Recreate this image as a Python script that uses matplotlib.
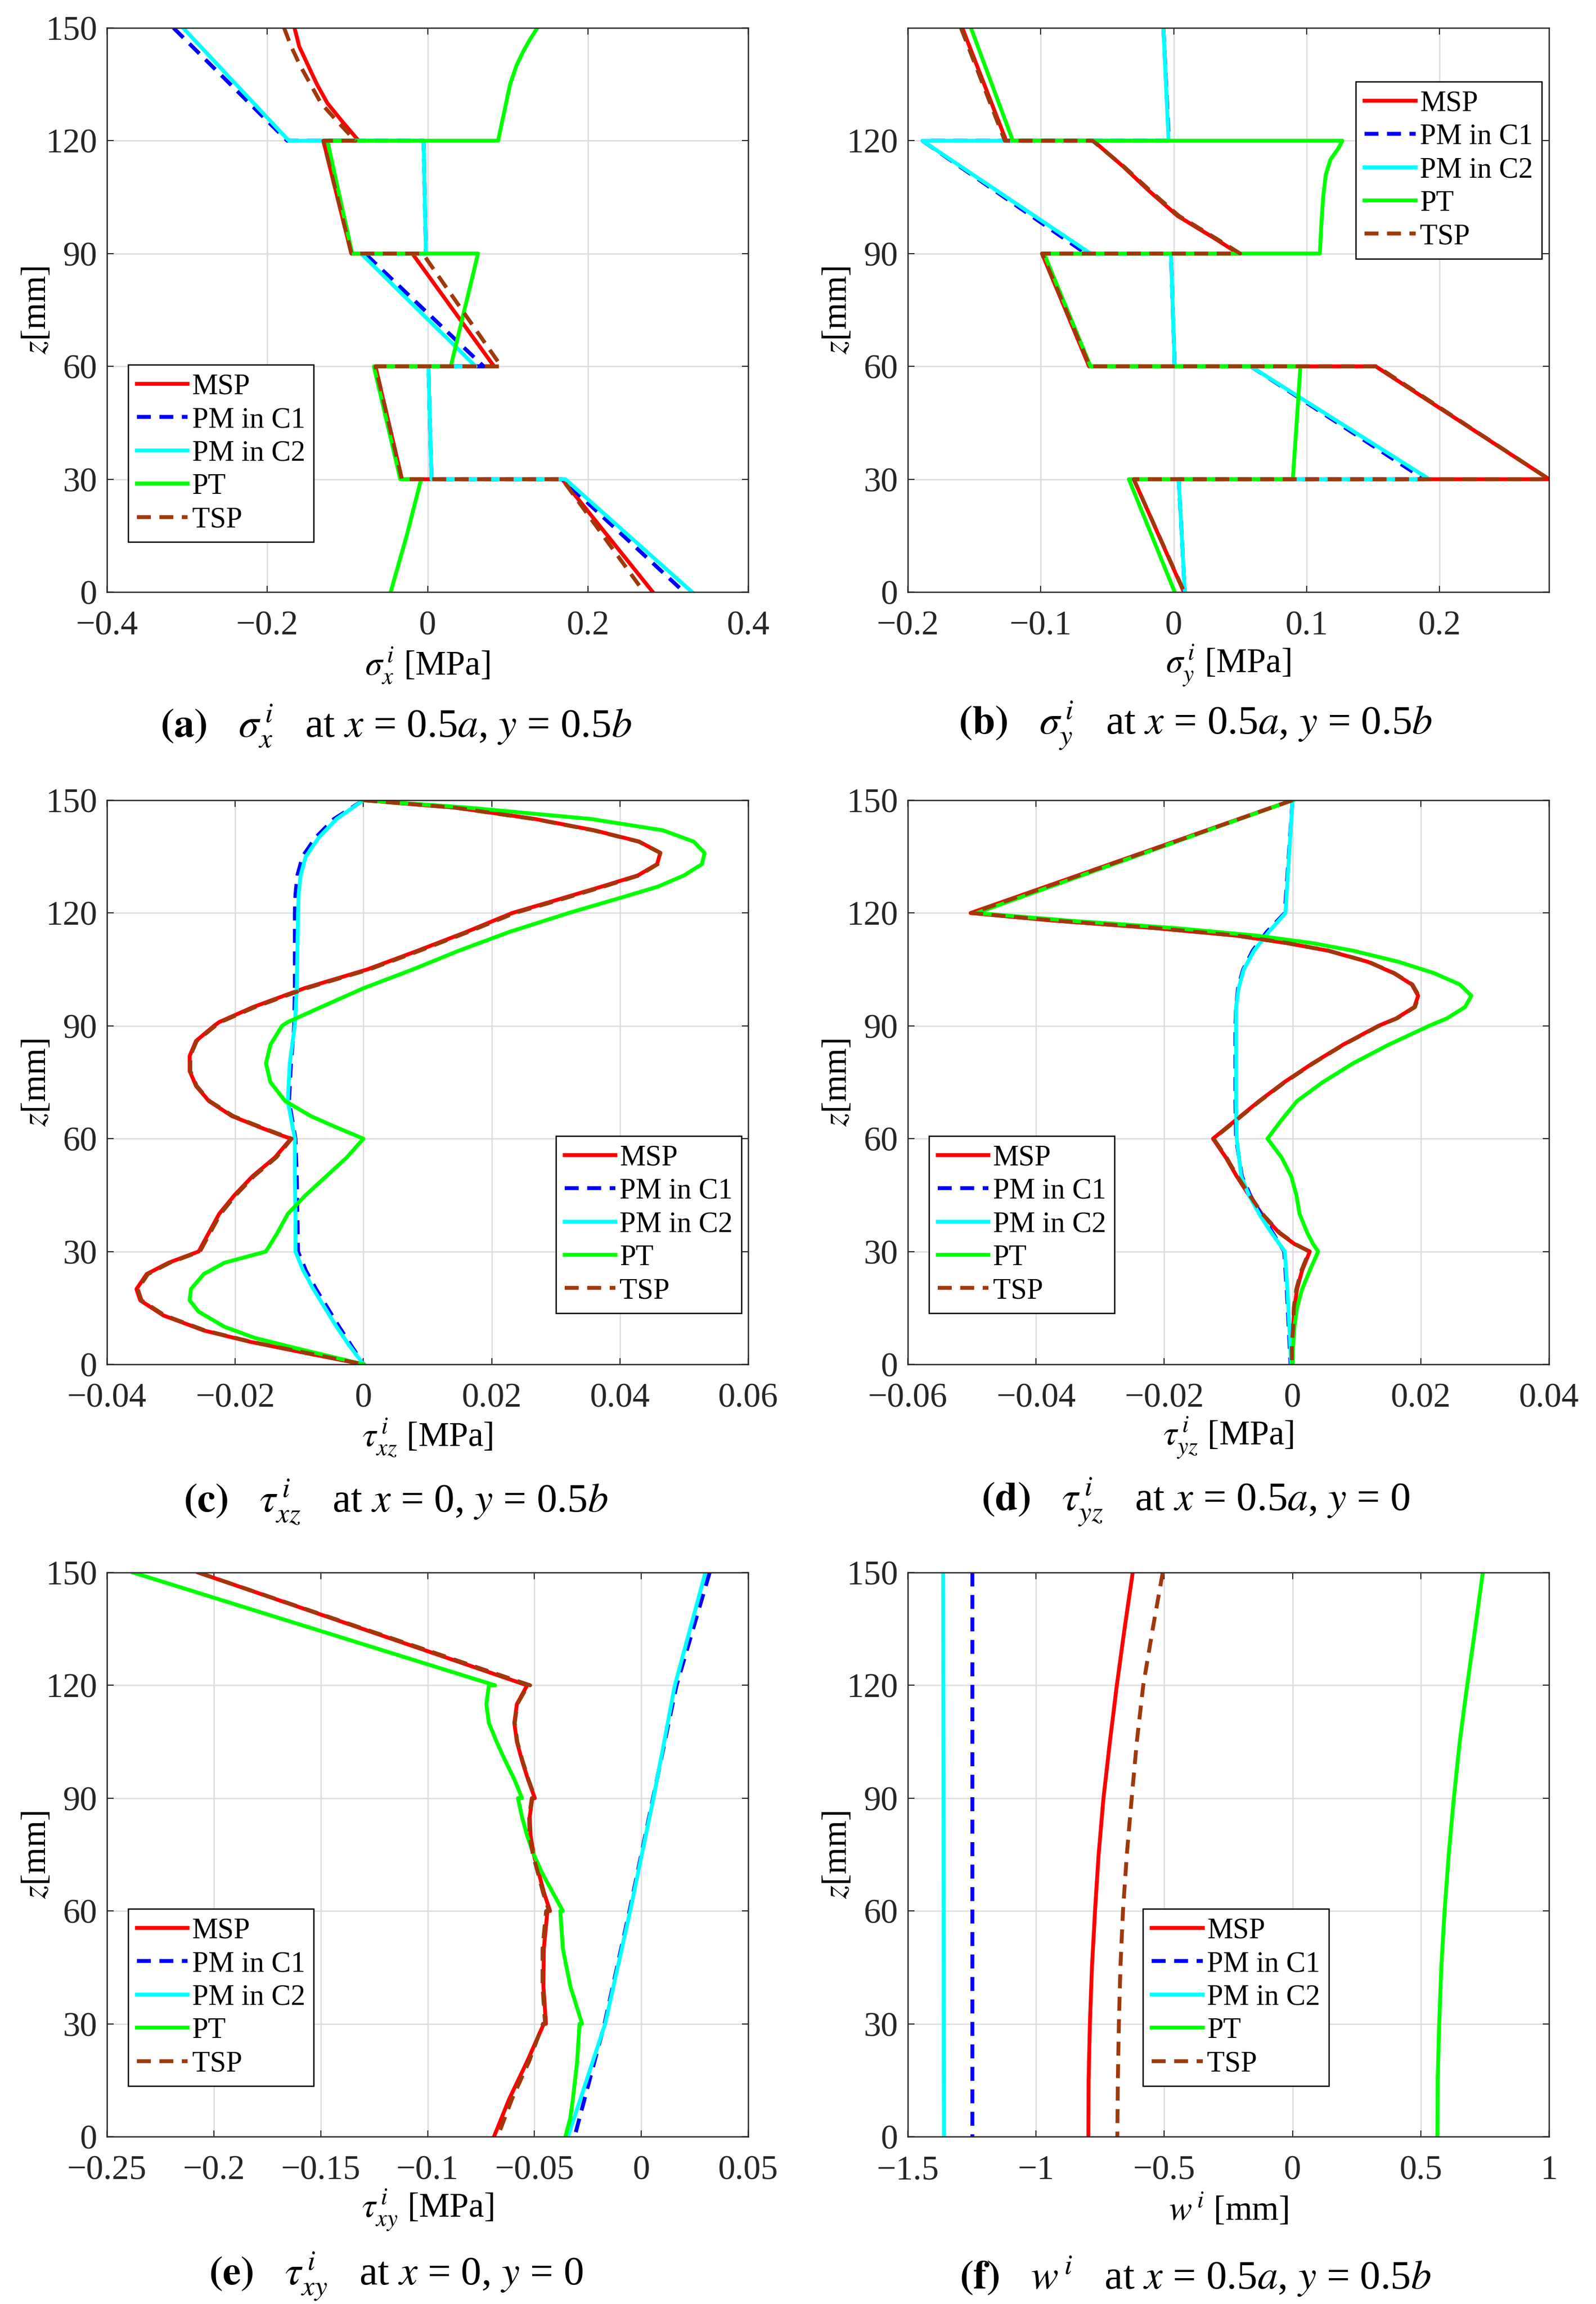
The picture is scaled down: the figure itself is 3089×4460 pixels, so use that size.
import matplotlib
matplotlib.use('Agg')
import matplotlib.pyplot as plt
from matplotlib.ticker import FuncFormatter

plt.rcParams['font.family'] = ['Liberation Serif', 'DejaVu Serif']
plt.rcParams['mathtext.fontset'] = 'stix'

names = ['MSP', 'PM in C1', 'PM in C2', 'PT', 'TSP']

# (a) sigma_x at x = 0.5a, y = 0.5b
a_z_msp = [150, 145, 140, 135, 130, 125, 120, 120, 90, 90, 60, 60, 30, 30, 0]
a_msp = [-0.166, -0.160, -0.149, -0.138, -0.125, -0.106, -0.086, -0.130, -0.095,
         -0.019, 0.083, -0.065, -0.032, 0.168, 0.281]
a_tsp = [-0.179, -0.170, -0.159, -0.146, -0.133, -0.112, -0.090, -0.130, -0.095,
         -0.006, 0.092, -0.065, -0.032, 0.168, 0.270]
a_z_pm = [150, 120, 120, 90, 90, 60, 60, 30, 30, 0]
a_pm1 = [-0.317, -0.175, -0.005, -0.002, -0.078, 0.070, 0.001, 0.005, 0.168, 0.320]
a_pm2 = [-0.305, -0.173, -0.005, -0.002, -0.083, 0.060, 0.001, 0.005, 0.172, 0.330]
a_z_pt = [150, 147, 144, 140, 135, 130, 125, 120, 120, 90, 90, 60, 60, 30, 30, 15, 0]
a_pt = [0.137, 0.128, 0.120, 0.111, 0.103, 0.098, 0.093, 0.088, -0.125, -0.094,
        0.063, 0.029, -0.067, -0.034, -0.008, -0.026, -0.046]

# (b) sigma_y at x = 0.5a, y = 0.5b
b_z_msp = [150, 120, 120, 113, 106.5, 100, 94, 90, 90, 60, 60, 30, 30, 0]
b_msp = [-0.159, -0.126, -0.0605, -0.0375, -0.018, 0.003, 0.031, 0.0487,
         -0.099, -0.0636, 0.152, 0.2824, -0.030, 0.0077]
b_tsp = [-0.160, -0.127, -0.061, -0.037, -0.017, 0.004, 0.032, 0.050,
         -0.099, -0.063, 0.153, 0.2824, -0.030, 0.008]
b_z_pm = [150, 120, 120, 90, 90, 60, 60, 30, 30, 0]
b_pm1 = [-0.0077, -0.0035, -0.189, -0.066, -0.002, 0.0008, 0.058, 0.1885, 0.0038, 0.0084]
b_pm2 = [-0.0077, -0.0038, -0.189, -0.0625, -0.002, 0.0008, 0.058, 0.1923, 0.0038, 0.0084]
b_z_pt = [150, 120, 120, 118, 115, 111, 105, 97, 90, 90, 60, 60, 30, 30, 0]
b_pt = [-0.1525, -0.121, 0.127, 0.124, 0.118, 0.1145, 0.1125, 0.111, 0.110,
        -0.0975, -0.0625, 0.0954, 0.0897, -0.0337, 0.0008]

# (c) tau_xz at x = 0, y = 0.5b
c_z_msp = [150, 148, 145, 142, 139, 136, 133, 130, 127, 123, 120, 115, 110, 105, 100,
           95, 91, 90, 86, 82, 78, 74, 70, 66, 63, 61, 60, 55, 50, 45, 40, 35, 30,
           27, 24, 20, 17, 13, 9, 6, 3, 0]
c_msp = [0.0, 0.0145, 0.0268, 0.0360, 0.0430, 0.0463, 0.0458, 0.0428, 0.0371, 0.0292,
         0.0232, 0.0161, 0.0085, 0.0006, -0.0092, -0.0172, -0.0225, -0.0233, -0.0261,
         -0.0271, -0.0271, -0.0261, -0.0241, -0.0205, -0.0161, -0.0130, -0.0113,
         -0.0138, -0.0173, -0.0201, -0.0225, -0.0241, -0.0257, -0.0304, -0.0338,
         -0.0354, -0.0348, -0.0312, -0.0249, -0.0177, -0.0090, 0.0]
c_tsp = [0.0, 0.0143, 0.0266, 0.0358, 0.0429, 0.0463, 0.0459, 0.0430, 0.0374, 0.0296,
         0.0236, 0.0164, 0.0088, 0.0009, -0.0089, -0.0169, -0.0223, -0.0231, -0.0260,
         -0.0270, -0.0270, -0.0260, -0.0240, -0.0203, -0.0159, -0.0128, -0.0112,
         -0.0136, -0.0171, -0.0199, -0.0223, -0.0239, -0.0255, -0.0302, -0.0336,
         -0.0352, -0.0346, -0.0310, -0.0247, -0.0175, -0.0088, 0.0]
c_z_pm = [150, 145, 140, 135, 130, 125, 120, 110, 100, 90, 80, 70, 60, 50, 40, 30,
          25, 20, 15, 10, 5, 0]
c_pm1 = [0.0, -0.0046, -0.0075, -0.0095, -0.0103, -0.0106, -0.0107, -0.0107, -0.0107,
         -0.0108, -0.0113, -0.0116, -0.0106, -0.0104, -0.0103, -0.0102, -0.0090,
         -0.0074, -0.0056, -0.0038, -0.0019, 0.0]
c_pm2 = [0.0, -0.0042, -0.0070, -0.0090, -0.0098, -0.0101, -0.0102, -0.0103, -0.0104,
         -0.0107, -0.0115, -0.0118, -0.0107, -0.0107, -0.0106, -0.0106, -0.0094,
         -0.0078, -0.0060, -0.0042, -0.0022, 0.0]
c_z_pt = [150, 148, 145, 142, 139, 136, 133, 130, 127, 124, 120, 115, 110, 105, 100,
          95, 91, 90, 85, 80, 75, 70, 66, 63, 60, 55, 50, 45, 40, 35, 30, 27, 24, 20,
          17, 14, 10, 7, 4, 0]
c_pt = [0.0, 0.0165, 0.0355, 0.0467, 0.0515, 0.0532, 0.0528, 0.0500, 0.0459, 0.0400,
        0.0320, 0.0228, 0.0149, 0.0077, 0.0, -0.0066, -0.0118, -0.0127, -0.0145,
        -0.0152, -0.0145, -0.0122, -0.0082, -0.0042, 0.0, -0.0026, -0.0058, -0.0090,
        -0.0118, -0.0134, -0.0152, -0.0217, -0.0249, -0.0269, -0.0271, -0.0257,
        -0.0217, -0.0169, -0.0098, 0.0]

# (d) tau_yz at x = 0.5a, y = 0
d_z = [150, 120, 118, 116, 114, 112, 110, 107, 104, 101, 98, 95, 92, 90, 85, 80, 75,
       70, 65, 60, 55, 50, 45, 40, 35, 32, 30, 25, 20, 15, 10, 5, 0]
d_msp = [0.0, -0.0502, -0.0374, -0.0215, -0.0088, -0.0009, 0.0055, 0.0118, 0.0158,
         0.0186, 0.0196, 0.0190, 0.0162, 0.0134, 0.0079, 0.0031, -0.0013, -0.0052,
         -0.0088, -0.0124, -0.0104, -0.0087, -0.0068, -0.0048, -0.0021, 0.0003, 0.0027,
         0.0015, 0.0007, 0.0003, 0.0001, -0.0001, -0.0001]
d_tsp = [0.0, -0.0500, -0.0373, -0.0214, -0.0087, -0.0008, 0.0056, 0.0119, 0.0159,
         0.0187, 0.0197, 0.0191, 0.0163, 0.0135, 0.0080, 0.0032, -0.0012, -0.0051,
         -0.0087, -0.0123, -0.0103, -0.0086, -0.0067, -0.0047, -0.0020, 0.0004, 0.0026,
         0.0014, 0.0006, 0.0002, 0.0001, -0.0001, -0.0001]
d_pt = [0.0, -0.0493, -0.0350, -0.0183, -0.0056, 0.0031, 0.0094, 0.0166, 0.0221,
        0.0261, 0.0279, 0.0269, 0.0241, 0.0213, 0.0150, 0.0094, 0.0047, 0.0007,
        -0.0017, -0.0039, -0.0017, -0.0002, 0.0006, 0.0011, 0.0023, 0.0032, 0.0040,
        0.0027, 0.0015, 0.0007, 0.0003, 0.0001, 0.0]
d_z_pm = [150, 120, 115, 110, 105, 100, 95, 90, 80, 70, 60, 50, 45, 40, 35, 30, 20, 10, 0]
d_pm1 = [0.0, -0.0012, -0.0040, -0.0062, -0.0077, -0.0085, -0.0088, -0.0089, -0.0089,
         -0.0089, -0.0088, -0.0079, -0.0066, -0.0050, -0.0031, -0.0013, -0.0009,
         -0.0006, -0.0003]
d_pm2 = [0.0, -0.0011, -0.0037, -0.0060, -0.0076, -0.0084, -0.0088, -0.0088, -0.0088,
         -0.0088, -0.0087, -0.0080, -0.0068, -0.0052, -0.0033, -0.0012, -0.0008,
         -0.0005, -0.0002]

# (e) tau_xy at x = 0, y = 0
e_z_msp = [150, 120, 120, 115, 110, 105, 100, 95, 90, 90, 85, 80, 75, 70, 65, 60,
           60, 50, 40, 30, 30, 20, 10, 0]
e_msp = [-0.2073, -0.0534, -0.0534, -0.0582, -0.0594, -0.0582, -0.0558, -0.0530,
         -0.0498, -0.0510, -0.0522, -0.0518, -0.0503, -0.0479, -0.0456, -0.0427,
         -0.0439, -0.0456, -0.0458, -0.0446, -0.0456, -0.0534, -0.0618, -0.0689]
e_tsp = [-0.2073, -0.0520, -0.0530, -0.0580, -0.0592, -0.0580, -0.0556, -0.0528,
         -0.0496, -0.0512, -0.0525, -0.0522, -0.0507, -0.0483, -0.0460, -0.0432,
         -0.0445, -0.0462, -0.0462, -0.0450, -0.0460, -0.0525, -0.0605, -0.0672]
e_z_pt = [150, 120, 120, 115, 110, 105, 100, 95, 90, 90, 85, 80, 75, 70, 65, 60,
          60, 50, 40, 30, 30, 20, 10, 5, 0]
e_pt = [-0.2378, -0.0684, -0.0713, -0.0725, -0.0713, -0.0677, -0.0637, -0.0594,
        -0.0558, -0.0577, -0.0558, -0.0534, -0.0503, -0.0463, -0.0415, -0.0367,
        -0.0379, -0.0367, -0.0332, -0.0277, -0.0289, -0.0300, -0.0320, -0.0332, -0.0355]
e_z_pm = [150, 120, 90, 60, 30, 0]
e_pm1 = [0.0320, 0.0165, 0.0055, -0.0055, -0.0172, -0.0312]
e_pm2 = [0.0300, 0.0157, 0.0057, -0.0052, -0.0169, -0.0343]

# (f) w at x = 0.5a, y = 0.5b
f_z = [150, 135, 120, 105, 90, 75, 60, 45, 30, 15, 0]
f_msp = [-0.623, -0.655, -0.685, -0.712, -0.737, -0.756, -0.770, -0.782, -0.790, -0.795, -0.796]
f_tsp = [-0.506, -0.545, -0.582, -0.607, -0.627, -0.646, -0.661, -0.671, -0.677, -0.681, -0.683]
f_pt = [0.742, 0.712, 0.681, 0.652, 0.629, 0.609, 0.593, 0.580, 0.572, 0.566, 0.565]
f_z_pm = [150, 0]
f_pm1 = [-1.248, -1.248]
f_pm2 = [-1.362, -1.359]

colors = {'MSP': '#ff0000', 'PM in C1': '#0000ff', 'PM in C2': '#00ffff',
          'PT': '#00ff00', 'TSP': '#a0380a'}
dashed = ['PM in C1', 'TSP']

fmt = FuncFormatter(lambda v, p: ('%g' % round(v, 6)).replace('-', '\u2212'))

fig = plt.figure(figsize=(3089 / 300, 4460 / 300), dpi=300)

W = 1241 / 3089
H = 1092 / 4460
cols = [207 / 3089, 1757 / 3089]
rows = [1 - 1146 / 4460, 1 - 2641 / 4460, 1 - 4136 / 4460]
cap_x = [0.248, 0.749]
cap_y = [0.685, 0.348, 0.012]


def panel(r, c, curves, xlim, xticks, yticks, xlabel, caption, leg_xy):
    ax = fig.add_axes([cols[c], rows[r], W, H])
    for name, (z, v) in zip(names, curves):
        line, = ax.plot(v, z, color=colors[name], lw=1.8, label=name)
        if name in dashed:
            line.set_dashes((3.6, 2.2))
    ax.set_xlim(xlim)
    ax.set_ylim(0, 150)
    ax.set_xticks(xticks)
    ax.set_yticks(yticks)
    ax.xaxis.set_major_formatter(fmt)
    ax.yaxis.set_major_formatter(fmt)
    ax.grid(True, color='#dcdcdc', lw=0.6)
    ax.set_axisbelow(True)
    ax.tick_params(direction='in', top=True, right=True, length=3, width=0.5,
                   labelsize=16, colors='#262626')
    ax.tick_params(axis='x', pad=8.5)
    ax.tick_params(axis='y', pad=4.5)
    for s in ax.spines.values():
        s.set_linewidth(0.6)
        s.set_color('#262626')
    ax.set_xlabel(xlabel, fontsize=16)
    ax.xaxis.set_label_coords(0.5, -0.13)
    ax.xaxis.label.set_va('center')
    ax.set_ylabel(r'$z$[mm]', fontsize=16)
    ax.yaxis.set_label_coords(-0.109, 0.5)
    ax.yaxis.label.set_va('center')
    leg = ax.legend(loc='upper left', bbox_to_anchor=leg_xy, borderaxespad=0,
                    fancybox=False, edgecolor='black', framealpha=1, fontsize=13.5,
                    handlelength=1.75, handletextpad=0.15, labelspacing=0.22,
                    borderpad=0.3)
    leg.get_frame().set_linewidth(0.6)
    fig.text(cap_x[c], cap_y[r], caption, ha='center', va='center', fontsize=19)
    return ax


yt = [0, 30, 60, 90, 120, 150]

panel(0, 0, [(a_z_msp, a_msp), (a_z_pm, a_pm1), (a_z_pm, a_pm2), (a_z_pt, a_pt), (a_z_msp, a_tsp)],
      (-0.4, 0.4), [-0.4, -0.2, 0, 0.2, 0.4], yt,
      r'$\sigma_x^{\,i}$ [MPa]',
      r'$\mathbf{(a)}$   $\sigma_x^{\,i}$   at $x$ = 0.5$a$, $y$ = 0.5$b$', (0.033, 0.403))

panel(0, 1, [(b_z_msp, b_msp), (b_z_pm, b_pm1), (b_z_pm, b_pm2), (b_z_pt, b_pt), (b_z_msp, b_tsp)],
      (-0.2, 0.2824), [-0.2, -0.1, 0, 0.1, 0.2], [0, 30, 60, 90, 120],
      r'$\sigma_y^{\,i}$ [MPa]',
      r'$\mathbf{(b)}$   $\sigma_y^{\,i}$   at $x$ = 0.5$a$, $y$ = 0.5$b$', (0.699, 0.905))

panel(1, 0, [(c_z_msp, c_msp), (c_z_pm, c_pm1), (c_z_pm, c_pm2), (c_z_pt, c_pt), (c_z_msp, c_tsp)],
      (-0.04, 0.06), [-0.04, -0.02, 0, 0.02, 0.04, 0.06], yt,
      r'$\tau_{xz}^{\,i}$ [MPa]',
      r'$\mathbf{(c)}$   $\tau_{xz}^{\,i}$   at $x$ = 0, $y$ = 0.5$b$', (0.70, 0.405))

panel(1, 1, [(d_z, d_msp), (d_z_pm, d_pm1), (d_z_pm, d_pm2), (d_z, d_pt), (d_z, d_tsp)],
      (-0.06, 0.04), [-0.06, -0.04, -0.02, 0, 0.02, 0.04], yt,
      r'$\tau_{yz}^{\,i}$ [MPa]',
      r'$\mathbf{(d)}$   $\tau_{yz}^{\,i}$   at $x$ = 0.5$a$, $y$ = 0', (0.033, 0.405))

panel(2, 0, [(e_z_msp, e_msp), (e_z_pm, e_pm1), (e_z_pm, e_pm2), (e_z_pt, e_pt), (e_z_msp, e_tsp)],
      (-0.25, 0.05), [-0.25, -0.2, -0.15, -0.1, -0.05, 0, 0.05], yt,
      r'$\tau_{xy}^{\,i}$ [MPa]',
      r'$\mathbf{(e)}$   $\tau_{xy}^{\,i}$   at $x$ = 0, $y$ = 0', (0.033, 0.404))

panel(2, 1, [(f_z, f_msp), (f_z_pm, f_pm1), (f_z_pm, f_pm2), (f_z, f_pt), (f_z, f_tsp)],
      (-1.5, 1.0), [-1.5, -1, -0.5, 0, 0.5, 1], yt,
      r'$w^{\,i}$ [mm]',
      r'$\mathbf{(f)}$   $w^{\,i}$   at $x$ = 0.5$a$, $y$ = 0.5$b$', (0.367, 0.404))

fig.savefig('out.png', dpi=300)
